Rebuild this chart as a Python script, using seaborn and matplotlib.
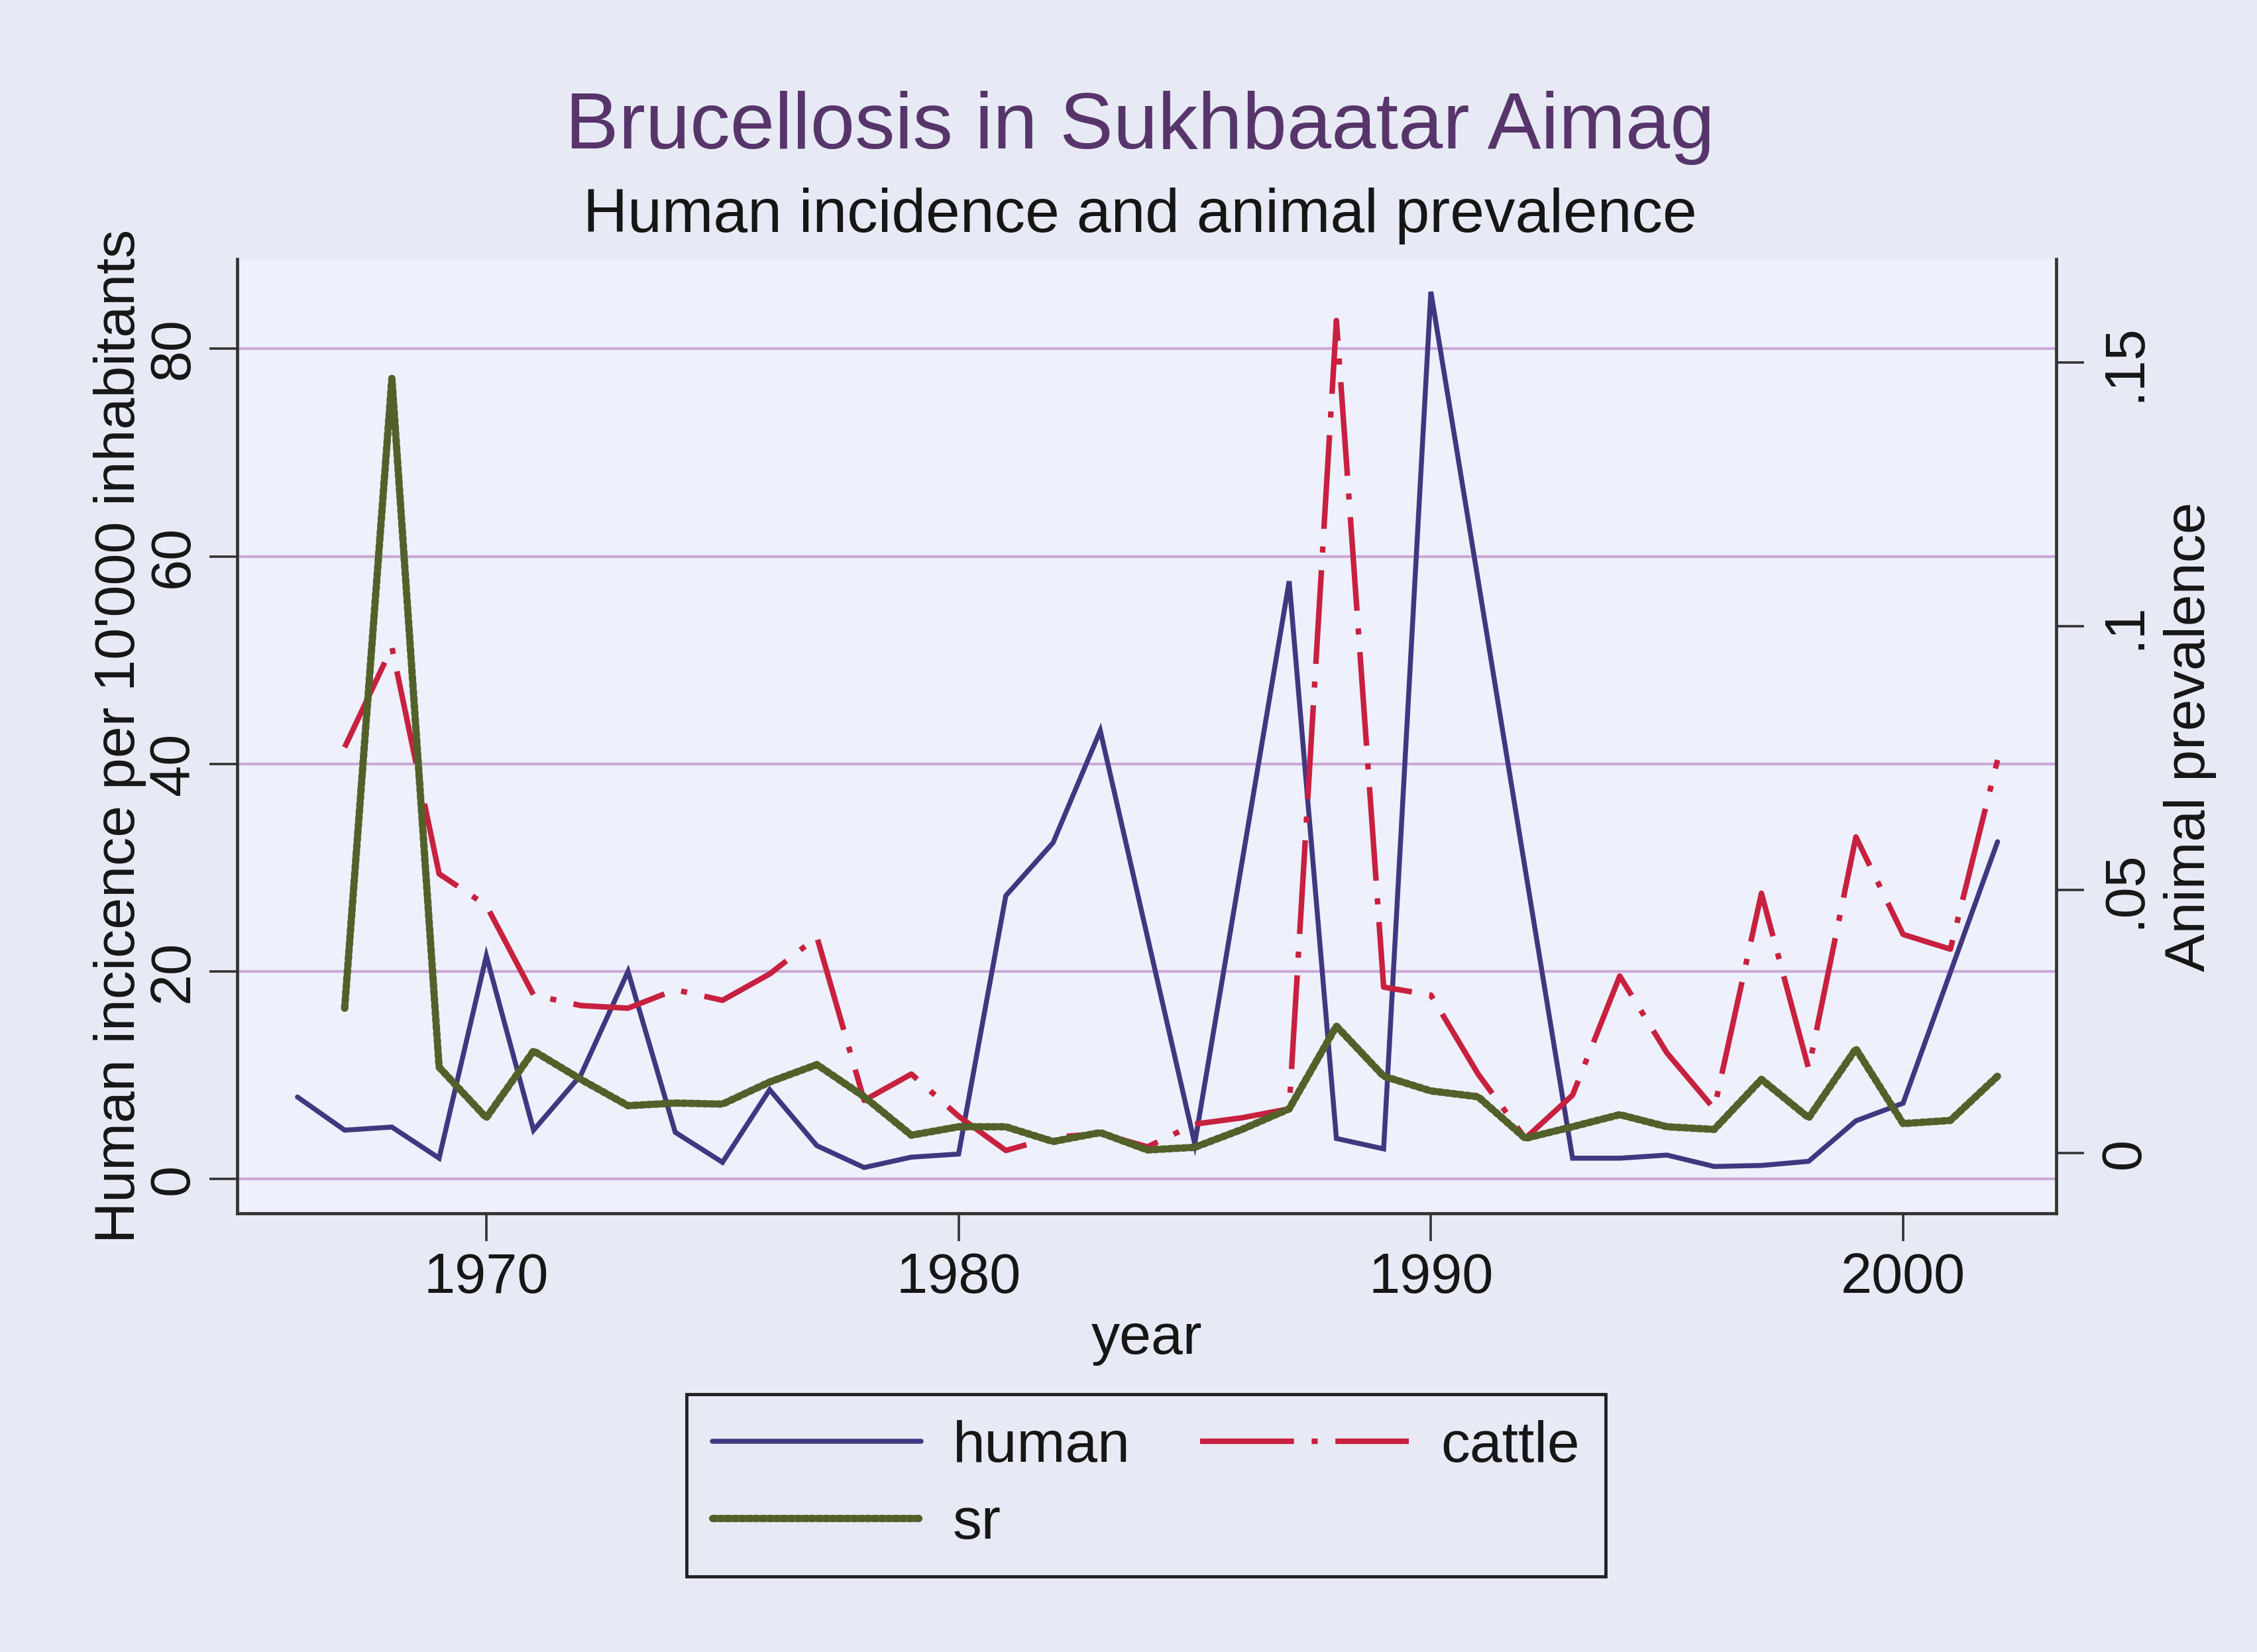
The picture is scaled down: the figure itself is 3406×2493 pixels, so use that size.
import matplotlib
matplotlib.use("Agg")
import matplotlib.pyplot as plt
from matplotlib.lines import Line2D
import seaborn as sns
import pandas as pd

# ---- data -------------------------------------------------------------
human_years = list(range(1966, 2003))
human = [7.9, 4.7, 5.0, 2.0, 21.5, 4.7, 10.0, 20.0, 4.5, 1.6,
         8.6, 3.2, 1.1, 2.1, 2.4, 27.3, 32.4, 43.2, 23.3, 3.4,
         30.5, 57.6, 3.9, 2.9, 85.5, 57.7, 29.8, 2.0, 2.0, 2.3,
         1.2, 1.3, 1.7, 5.6, 7.3, 19.9, 32.5]

animal_years = list(range(1967, 2003))
cattle = [0.077, 0.096, 0.053, 0.047, 0.030, 0.028, 0.0275, 0.031, 0.029, 0.034,
          0.041, 0.010, 0.015, 0.007, 0.0005, 0.003, 0.0037, 0.0012, 0.0055, 0.0067,
          0.0084, 0.158, 0.0315, 0.030, 0.015, 0.0028, 0.011, 0.0336, 0.019, 0.0084,
          0.0493, 0.016, 0.060, 0.0415, 0.0387, 0.0746]
sr = [0.0275, 0.147, 0.0163, 0.0067, 0.0194, 0.014, 0.009, 0.0095, 0.0093, 0.0135,
      0.0168, 0.0107, 0.0034, 0.005, 0.005, 0.0022, 0.0039, 0.0006, 0.0011, 0.0045,
      0.0084, 0.0241, 0.0146, 0.0118, 0.0107, 0.0028, 0.005, 0.0073, 0.005, 0.0045,
      0.014, 0.0067, 0.0198, 0.0056, 0.0062, 0.0146]

left_ticks = [0, 20, 40, 60, 80]
right_ticks = [0, 0.05, 0.10, 0.15]
right_ticklabels = ["0", ".05", ".1", ".15"]
x_ticks = [1970, 1980, 1990, 2000]

title = "Brucellosis in Sukhbaatar Aimag"
subtitle = "Human incidence and animal prevalence"

# ---- style ------------------------------------------------------------
sns.set_theme(style="white")
plt.rcParams["font.family"] = ["Liberation Sans", "DejaVu Sans"]

outer_bg = "#E7EAF4"
plot_bg = "#EEF0FB"
grid_col = "#CBA9D8"
axis_col = "#333333"
text_col = "#161616"
c_human = "#3F3880"
c_cattle = "#C8203F"
c_sr = "#52612A"

lw_human, lw_cattle, lw_sr = 5.4, 6.0, 8.0

human_df = pd.DataFrame({"year": human_years, "human": human})
animal_df = pd.DataFrame({"year": animal_years, "cattle": cattle, "sr": sr})

fig = plt.figure(figsize=(34.06, 24.93), dpi=100, facecolor=outer_bg)
ax = fig.add_axes([0.105, 0.2655, 0.806, 0.5775])
ax.set_facecolor(plot_bg)
ax2 = ax.twinx()

cattle_dash = (0, (17, 3.2, 1.1, 3.2))
sr_dots = (0, (0.45, 0.5))

sns.lineplot(data=human_df, x="year", y="human", ax=ax, color=c_human,
             linewidth=lw_human, solid_joinstyle="miter")
sns.lineplot(data=animal_df, x="year", y="cattle", ax=ax2, color=c_cattle,
             linewidth=lw_cattle, linestyle=cattle_dash)
sns.lineplot(data=animal_df, x="year", y="sr", ax=ax2, color=c_sr,
             linewidth=lw_sr, linestyle=sr_dots, dash_capstyle="round")

# ---- axes -------------------------------------------------------------
ax.set_xlim(1964.72, 2003.24)
ax.set_ylim(-3.32, 88.62)
ax2.set_ylim(-0.01144, 0.1696)

ax.set_xticks(x_ticks)
ax.set_yticks(left_ticks)
ax2.set_yticks(right_ticks)
ax2.set_yticklabels(right_ticklabels)

ax.grid(False)
ax2.grid(False)
for v in left_ticks:
    ax.axhline(v, color=grid_col, linewidth=3.0, zorder=0)

for a in (ax, ax2):
    a.spines["top"].set_visible(False)
    for s in a.spines.values():
        s.set_color(axis_col)
        s.set_linewidth(3.4)
ax.spines["right"].set_visible(False)
ax2.spines["left"].set_visible(False)
ax2.spines["bottom"].set_visible(False)

ax.tick_params(axis="x", direction="out", length=30, width=2.6, color=axis_col,
               labelsize=61, pad=12, bottom=True, labelcolor=text_col)
ax.tick_params(axis="y", direction="out", length=30, width=2.6, color=axis_col,
               labelsize=61, pad=10, left=True, labelrotation=90,
               labelcolor=text_col)
ax2.tick_params(axis="y", direction="out", length=30, width=2.6, color=axis_col,
                labelsize=61, pad=16, right=True, labelrotation=90,
                labelcolor=text_col)
for lab in ax.get_yticklabels() + ax2.get_yticklabels():
    lab.set_va("center")

ax.set_xlabel("year", fontsize=62, color=text_col, labelpad=8)
ax.set_ylabel("Human incicence per 10'000 inhabitants", fontsize=62, color=text_col)
ax2.set_ylabel("Animal prevalence", fontsize=62, color=text_col)
ax.yaxis.label.set_va("center")
ax2.yaxis.label.set_va("center")
ax.yaxis.set_label_coords(-0.0645, 0.5)
ax2.yaxis.set_label_coords(1.0735, 0.5)

# ---- titles -------------------------------------------------------------
fig.text(0.505, 0.9101, title, ha="center", va="baseline",
         fontsize=87, color="#57356B")
fig.text(0.505, 0.8596, subtitle, ha="center", va="baseline",
         fontsize=67, color=text_col)

# ---- legend -------------------------------------------------------------
h_human = Line2D([], [], color=c_human, linewidth=lw_human)
h_cattle = Line2D([], [], color=c_cattle, linewidth=lw_cattle, linestyle=cattle_dash)
h_sr = Line2D([], [], color=c_sr, linewidth=lw_sr, linestyle=sr_dots,
              dash_capstyle="round")
leg = fig.legend([h_human, h_sr, h_cattle], ["human", "sr", "cattle"],
                 ncol=2, loc="center", bbox_to_anchor=(0.5077, 0.1009),
                 fontsize=63, frameon=True, fancybox=False, facecolor=outer_bg,
                 edgecolor="#222222", framealpha=1, handlelength=3.6,
                 handletextpad=0.55, columnspacing=1.2, labelspacing=0.4,
                 borderpad=0.45)
leg.get_frame().set_linewidth(3.5)
for t in leg.get_texts():
    t.set_color(text_col)

fig.savefig("out.png", dpi=100, facecolor=outer_bg)
